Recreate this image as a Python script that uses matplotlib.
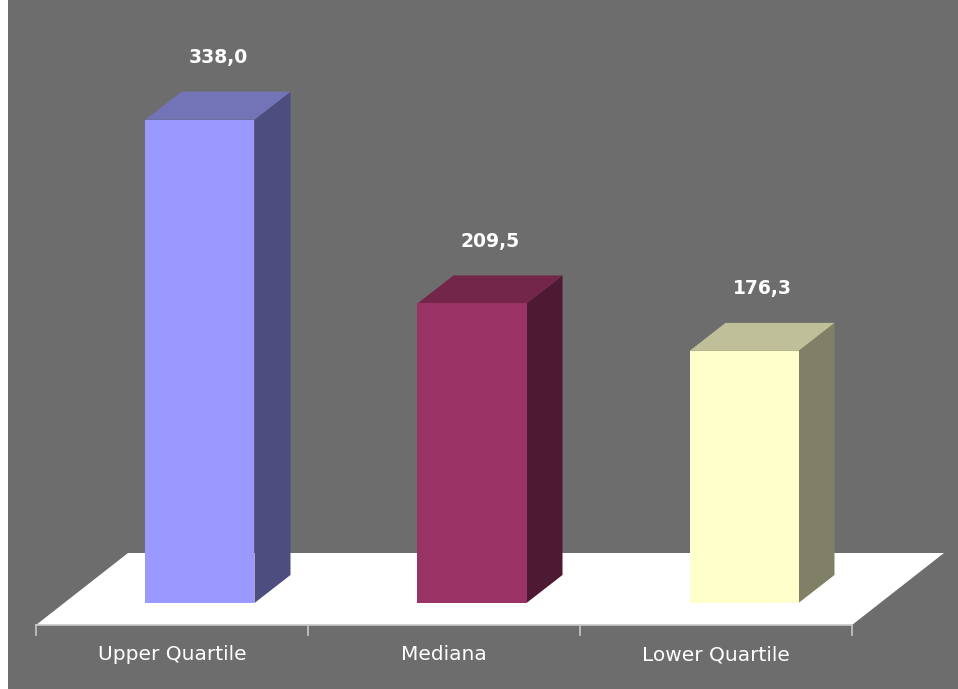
import matplotlib.pyplot as plt
from matplotlib.patches import Polygon, Rectangle

categories = ['Upper Quartile', 'Mediana', 'Lower Quartile']
values = [338.0, 209.5, 176.3]
labels = ['338,0', '209,5', '176,3']
front_colors = ['#9999ff', '#993366', '#ffffcc']
side_colors = ['#4d4d80', '#4d1933', '#808066']
top_colors = ['#7373b8', '#732649', '#bfbf99']

W, H = 958, 689
fig = plt.figure(figsize=(W / 100, H / 100), dpi=100)
fig.patch.set_facecolor('white')

# axes fill the figure; limits chosen so categories/values land where the original did
ax = fig.add_axes([8 / W, 0, 1 - 8 / W, 1])
ax.set_facecolor('#6d6d6d')
px_x = 272.0          # pixels per category
px_y = 1.43           # pixels per unit of value
ax.set_xlim(-0.5 - 28 / px_x, -0.5 + 922 / px_x)
ax.set_ylim(-86 / px_y, 603 / px_y)
for s in ax.spines.values():
    s.set_visible(False)
ax.set_xticks([])
ax.set_yticks([])

# pixel offsets -> data units
def dx(p):
    return p / px_x

def dy(p):
    return p / px_y

# floor
fy = -dy(22)
x0, x1 = -0.5, len(categories) - 0.5
floor = Polygon([(x0, fy), (x1, fy), (x1 + dx(92), fy + dy(72)), (x0 + dx(92), fy + dy(72))],
                closed=True, facecolor='white', edgecolor='none', zorder=1)
ax.add_patch(floor)
ax.plot([x0, x1], [fy, fy], color='#c8c8c8', lw=1.2, zorder=2)
for b in range(len(categories) + 1):
    xb = x0 + b
    ax.plot([xb, xb], [fy, fy - dy(10)], color='#c8c8c8', lw=1.2, zorder=2)

# bars
bw = 109 / px_x
ox, oy = dx(36), dy(28)
for i, v in enumerate(values):
    xl = i - bw / 2 + dx(28)
    xr = xl + bw
    ax.add_patch(Rectangle((xl, 0), bw, v, facecolor=front_colors[i], edgecolor='none', zorder=4))
    ax.add_patch(Polygon([(xr, 0), (xr + ox, oy), (xr + ox, v + oy), (xr, v)],
                         facecolor=side_colors[i], edgecolor='none', zorder=3))
    ax.add_patch(Polygon([(xl, v), (xr, v), (xr + ox, v + oy), (xl + ox, v + oy)],
                         facecolor=top_colors[i], edgecolor='none', zorder=3))
    ax.text(xl + bw / 2 + ox / 2, v + dy(62), labels[i], ha='center', va='center',
            color='white', fontsize=13.5, fontweight='heavy', family='DejaVu Sans')
    ax.text(i, fy - dy(30), categories[i], ha='center', va='center',
            color='white', fontsize=14.5, family='DejaVu Sans')

fig.savefig('out.png', dpi=100)
